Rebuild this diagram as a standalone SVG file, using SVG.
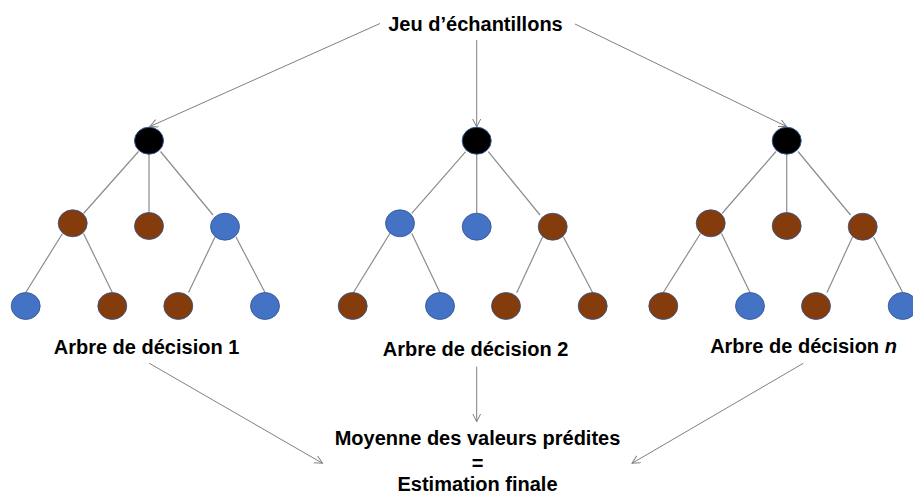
<svg xmlns="http://www.w3.org/2000/svg" width="913" height="497" viewBox="0 0 913 497">
<defs>
<marker id="arr" markerWidth="10" markerHeight="10" refX="8" refY="4" orient="auto" markerUnits="userSpaceOnUse">
<path d="M0,0 L8,4 L0,8" fill="none" stroke="#808080" stroke-width="1"/>
</marker>
<style>
text{font-family:"Liberation Sans",Arial,sans-serif;font-weight:bold;font-size:20px;fill:#000;text-anchor:middle}
.edge{stroke:#8c8c8c;stroke-width:1.2;fill:none}
.arrow{stroke:#808080;stroke-width:1;fill:none;marker-end:url(#arr)}
.root{fill:#000;stroke:#2F528F;stroke-width:1}
.blue{fill:#4472C4;stroke:#2F528F;stroke-width:0.8}
.brown{fill:#843C0C;stroke:#2F528F;stroke-width:0.8}
</style>
</defs>
<rect width="913" height="497" fill="#fff"/>

<g id="connectors">
<!-- title arrows -->
<line class="arrow" x1="380" y1="23.5" x2="150" y2="126.5"/>
<line class="arrow" x1="476.7" y1="40" x2="476.7" y2="127"/>
<line class="arrow" x1="575" y1="24" x2="786.5" y2="126.5"/>
<!-- bottom arrows -->
<line class="arrow" x1="149.3" y1="363.3" x2="322.5" y2="463.3"/>
<line class="arrow" x1="476.7" y1="366.7" x2="476.7" y2="421.7"/>
<line class="arrow" x1="803.3" y1="363.3" x2="632" y2="463.3"/>
<!-- tree 1 -->
<line class="edge" x1="138.5" y1="151.5" x2="83.5" y2="213.5"/>
<line class="edge" x1="149" y1="154.5" x2="149" y2="212.5"/>
<line class="edge" x1="160.5" y1="151.5" x2="213" y2="215"/>
<line class="edge" x1="62.5" y1="233.5" x2="25.7" y2="292.5"/>
<line class="edge" x1="83.5" y1="233.5" x2="112.3" y2="292.5"/>
<line class="edge" x1="215" y1="237" x2="188.5" y2="292.5"/>
<line class="edge" x1="236" y1="237" x2="265" y2="292.5"/>
<!-- tree 2 -->
<line class="edge" x1="465.7" y1="151.7" x2="411.7" y2="213.3"/>
<line class="edge" x1="476.7" y1="154.5" x2="476.7" y2="213"/>
<line class="edge" x1="488.3" y1="151.7" x2="540" y2="215"/>
<line class="edge" x1="390" y1="233.3" x2="353.3" y2="292.7"/>
<line class="edge" x1="411.7" y1="233.3" x2="440" y2="292.7"/>
<line class="edge" x1="542.7" y1="236.7" x2="516.7" y2="292.7"/>
<line class="edge" x1="563.3" y1="236.7" x2="592.7" y2="292.7"/>
<!-- tree n -->
<line class="edge" x1="776" y1="151.5" x2="722" y2="213.5"/>
<line class="edge" x1="786.7" y1="154.5" x2="786.7" y2="212.5"/>
<line class="edge" x1="798" y1="151.5" x2="850.5" y2="215"/>
<line class="edge" x1="700.5" y1="233.5" x2="663.3" y2="292.5"/>
<line class="edge" x1="721.5" y1="233.5" x2="750" y2="292.5"/>
<line class="edge" x1="852.5" y1="237" x2="827" y2="292.5"/>
<line class="edge" x1="873.5" y1="237" x2="902.7" y2="292.5"/>
</g>

<g id="tree1">
<ellipse id="t1-root" class="root" cx="149" cy="140.7" rx="14.5" ry="13.5"/>
<ellipse id="t1-a" class="brown" cx="72.7" cy="223.3" rx="14.5" ry="13.5"/>
<ellipse id="t1-b" class="brown" cx="149" cy="226" rx="14.5" ry="13.5"/>
<ellipse id="t1-c" class="blue" cx="225" cy="226.7" rx="14.5" ry="13.5"/>
<ellipse id="t1-d" class="blue" cx="25.7" cy="306" rx="14.5" ry="13.5"/>
<ellipse id="t1-e" class="brown" cx="112.3" cy="306" rx="14.5" ry="13.5"/>
<ellipse id="t1-f" class="brown" cx="178.3" cy="306" rx="14.5" ry="13.5"/>
<ellipse id="t1-g" class="blue" cx="265" cy="306" rx="14.5" ry="13.5"/>
</g>

<g id="tree2">
<ellipse id="t2-root" class="root" cx="476.7" cy="140.7" rx="14.5" ry="13.5"/>
<ellipse id="t2-a" class="blue" cx="400" cy="223.3" rx="14.5" ry="13.5"/>
<ellipse id="t2-b" class="blue" cx="476.7" cy="226.7" rx="14.5" ry="13.5"/>
<ellipse id="t2-c" class="brown" cx="552.7" cy="226.7" rx="14.5" ry="13.5"/>
<ellipse id="t2-d" class="brown" cx="352.7" cy="306" rx="14.5" ry="13.5"/>
<ellipse id="t2-e" class="blue" cx="440" cy="306" rx="14.5" ry="13.5"/>
<ellipse id="t2-f" class="brown" cx="506" cy="306" rx="14.5" ry="13.5"/>
<ellipse id="t2-g" class="brown" cx="592.7" cy="306" rx="14.5" ry="13.5"/>
</g>

<g id="tree3">
<ellipse id="t3-root" class="root" cx="786.7" cy="140.7" rx="14.5" ry="13.5"/>
<ellipse id="t3-a" class="brown" cx="710.7" cy="223.3" rx="14.5" ry="13.5"/>
<ellipse id="t3-b" class="brown" cx="786.7" cy="226" rx="14.5" ry="13.5"/>
<ellipse id="t3-c" class="brown" cx="862.7" cy="226.7" rx="14.5" ry="13.5"/>
<ellipse id="t3-d" class="brown" cx="663.3" cy="306" rx="14.5" ry="13.5"/>
<ellipse id="t3-e" class="blue" cx="750" cy="306" rx="14.5" ry="13.5"/>
<ellipse id="t3-f" class="brown" cx="816" cy="306" rx="14.5" ry="13.5"/>
<ellipse id="t3-g" class="blue" cx="902.7" cy="306" rx="14.5" ry="13.5"/>
</g>

<g id="title"><text x="475.5" y="31">Jeu d’échantillons</text></g>
<g id="label1"><text x="146.5" y="354">Arbre de décision 1</text></g>
<g id="label2"><text x="475.5" y="356">Arbre de décision 2</text></g>
<g id="labeln"><text x="803.5" y="353">Arbre de décision <tspan font-style="italic">n</tspan></text></g>
<g id="result">
<text x="477.5" y="445">Moyenne des valeurs prédites</text>
<text x="477.5" y="470">=</text>
<text x="477.5" y="491">Estimation finale</text>
</g>
</svg>
